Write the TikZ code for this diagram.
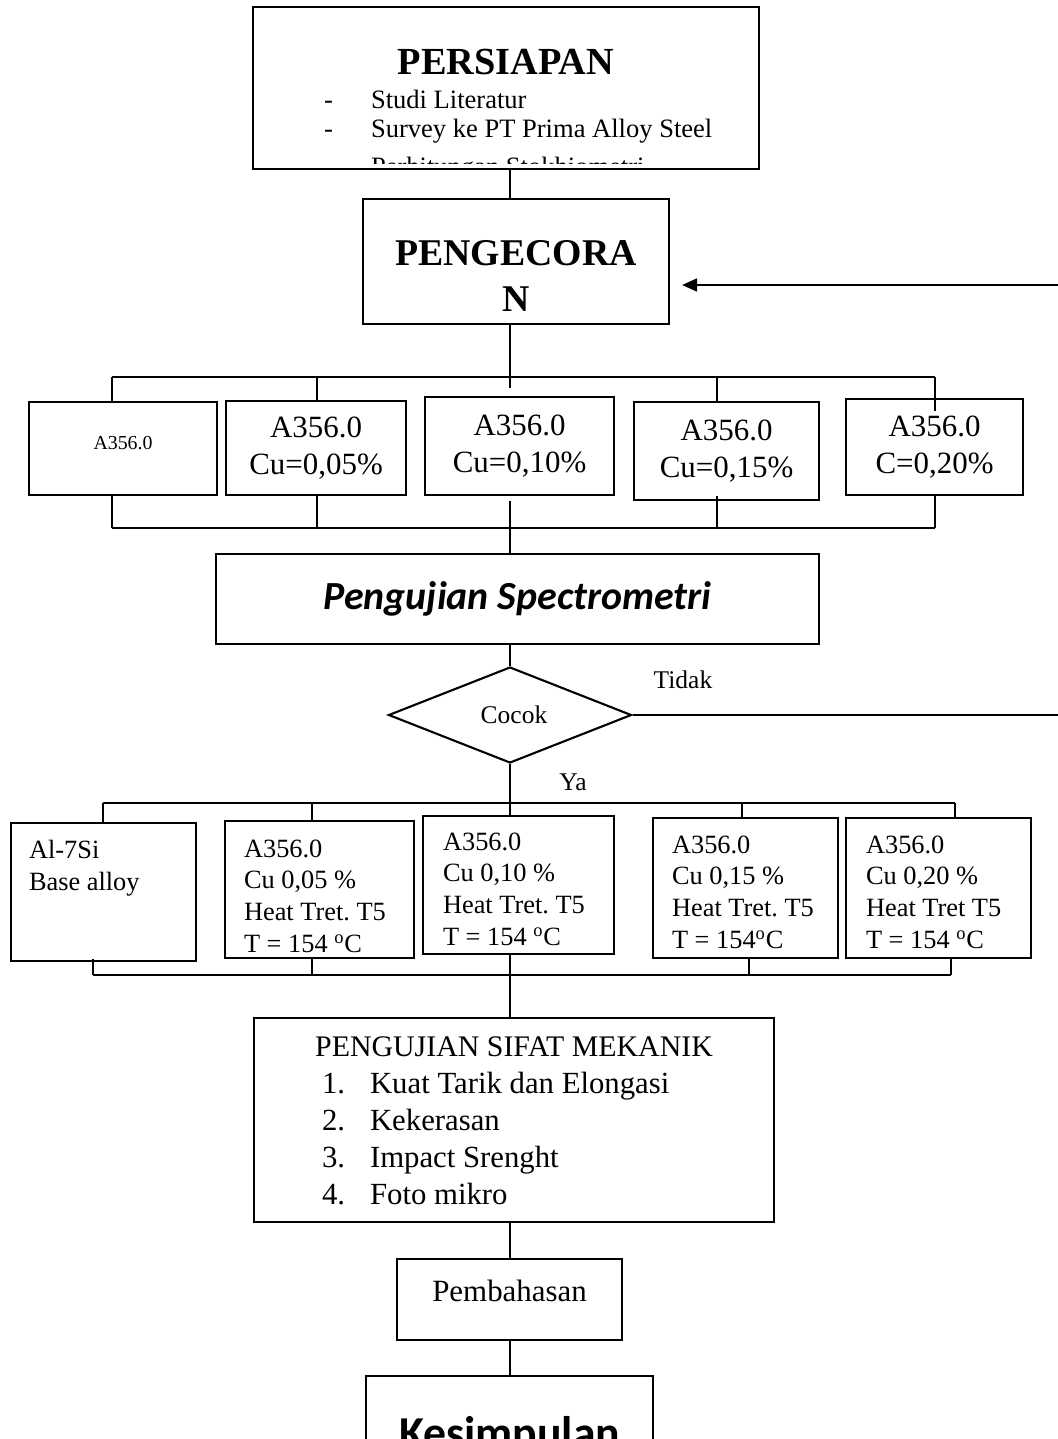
\documentclass[tikz,border=0pt]{standalone}
\usepackage{fontspec}
\setmainfont{Liberation Serif}
\newfontfamily\calibri{Carlito}
\usetikzlibrary{arrows.meta,shapes.geometric,calc}
\frenchspacing

\begin{document}
\begin{tikzpicture}[x=0.2mm, y=-0.2mm,
    blok/.style={draw, line width=1.2pt, inner sep=0pt, anchor=north west},
    garis/.style={line width=1.1pt},
    arr/.style={-{Triangle[length=3mm, width=2.6mm]}, line width=1.1pt},
    isi/.style={font=\fontsize{17.6}{21}\selectfont},
    isikecil/.style={font=\fontsize{15}{18.1}\selectfont},
    label/.style={font=\fontsize{14.5}{17}\selectfont, inner sep=0pt}
]
\useasboundingbox (0,0) rectangle (1058,1439);
\clip (0,0) rectangle (1058,1439);

% persiapan (third line cut off by the box)
\begin{scope}
\clip (253,7) rectangle (757,163);
\node[blok, draw=none] (prep) at (253,7) {\parbox[c][32mm][t]{100.8mm}{\vspace*{8.2mm}%
  {\centering\fontsize{21.8}{26}\selectfont\bfseries PERSIAPAN\par}
  {\fontsize{15.1}{19.3}\selectfont\hspace*{14mm}\makebox[9.4mm][l]{-}Studi Literatur\par}
  {\fontsize{15.1}{16.4}\selectfont\hspace*{14mm}\makebox[9.4mm][l]{-}Survey ke PT Prima Alloy Steel\par}
  {\fontsize{15.1}{22}\selectfont\hspace*{14mm}\makebox[9.4mm][l]{-}Perhitungan Stokhiometri\par}}};
\end{scope}
\draw[line width=1.2pt] (prep.north west) rectangle (prep.south east);

\node[blok] (peng) at (362,198) {\parbox[c][25mm][t]{61.2mm}{\vspace*{8.2mm}\centering
  \fontsize{21.5}{26.6}\selectfont\bfseries PENGECORA\\N}};

% paduan
\node[blok] (r1a) at (28,401) {\parbox[c][18.6mm][t]{37.6mm}{\vspace*{6.8mm}\centering
  \fontsize{11.3}{13}\selectfont A356.0}};
\node[blok, isi] (r1b) at (225,400) {\parbox[c][18.8mm][c]{36mm}{\centering A356.0\\Cu=0,05\%}};
\node[blok, isi] (r1c) at (424,396) {\parbox[c][19.6mm][c]{37.8mm}{\centering A356.0\\Cu=0,10\%}};
\node[blok, isi] (r1d) at (633,401) {\parbox[c][19.6mm][c]{37mm}{\centering A356.0\\Cu=0,15\%}};
\node[blok, isi] (r1e) at (845,398) {\parbox[c][19.2mm][c]{35.4mm}{\centering A356.0\\C=0,20\%}};

\node[blok] (spec) at (215,553) {\parbox[c][18mm][c]{120.6mm}{\centering
  \calibri\fontsize{22.7}{27}\selectfont\bfseries\itshape Pengujian Spectrometri}};

\node[draw, diamond, line width=1.2pt, minimum width=48.6mm, minimum height=19.2mm,
  inner sep=0pt, font=\fontsize{14.5}{17}\selectfont] (cocok) at (510,715) {\hspace*{1.6mm}\raisebox{-0.8mm}{Cocok}};
\node[label] (tidak) at (683,680) {Tidak};
\node[label] (ya) at (573,782) {Ya};

% heat treatment
\node[blok, isikecil] (r2a) at (10,822) {\parbox[c][27.6mm][t]{37mm}{\leftskip=3.6mm
  \vspace*{3.5mm}Al-7Si\\Base alloy}};
\node[blok, isikecil] (r2b) at (224,820) {\parbox[c][27.4mm][t]{37.8mm}{\leftskip=3.8mm
  \vspace*{3.7mm}A356.0\\Cu 0,05 \%\\Heat Tret. T5\\T = 154 \textsuperscript{o}C}};
\node[blok, isikecil] (r2c) at (422,815) {\parbox[c][27.6mm][t]{38.2mm}{\leftskip=4mm
  \vspace*{3.3mm}A356.0\\Cu 0,10 \%\\Heat Tret. T5\\T = 154 \textsuperscript{o}C}};
\node[blok, isikecil] (r2d) at (652,817) {\parbox[c][28mm][t]{37mm}{\leftskip=3.8mm
  \vspace*{3.5mm}A356.0\\Cu 0,15 \%\\Heat Tret. T5\\T = 154\textsuperscript{o}C}};
\node[blok, isikecil] (r2e) at (845,817) {\parbox[c][28mm][t]{37mm}{\leftskip=4mm
  \vspace*{3.5mm}A356.0\\Cu 0,20 \%\\Heat Tret T5\\T = 154 \textsuperscript{o}C}};

\node[blok] (sifat) at (253,1017) {\parbox[c][40.8mm][t]{104mm}{\vspace*{3.8mm}%
  {\centering\fontsize{17}{19}\selectfont PENGUJIAN SIFAT MEKANIK\par}
  {\fontsize{17.5}{21}\selectfont\leftskip=13.6mm
  \makebox[9.6mm][l]{1.}Kuat Tarik dan Elongasi\\
  \makebox[9.6mm][l]{2.}Kekerasan\\
  \makebox[9.6mm][l]{3.}Impact Srenght\\
  \makebox[9.6mm][l]{4.}Foto mikro\par}}};

\node[blok] (pemb) at (396,1258) {\parbox[c][16.2mm][t]{45mm}{\vspace*{4.2mm}\centering
  \fontsize{17.6}{20}\selectfont Pembahasan}};
\node[blok] (kes) at (365,1375) {\parbox[c][20mm][t]{57.4mm}{\vspace*{8mm}\centering
  \calibri\bfseries\fontsize{26}{30}\selectfont Kesimpulan}};

% titik bantu
\coordinate (spine) at (510,0);
\coordinate (ret) at (1058,285);
\coordinate (tidakujung) at (1058,715);
\coordinate (c1) at (510,388);
\coordinate (c2) at (510,501);
\coordinate (t1a) at (112,377); \coordinate (t1b) at (317,377);
\coordinate (t1d) at (717,377); \coordinate (t1e) at (935,377);
\coordinate (s1a) at (112,528); \coordinate (s1b) at (317,528);
\coordinate (s1d) at (717,528); \coordinate (s1e) at (935,528);
\coordinate (t2a) at (103,803); \coordinate (t2b) at (312,803);
\coordinate (t2d) at (742,803); \coordinate (t2e) at (955,803);
\coordinate (s2a) at (93,975); \coordinate (s2b) at (312,975);
\coordinate (s2d) at (749,975); \coordinate (s2e) at (951,975);

\draw[garis] (prep.south -| spine) -- (peng.north -| spine);
\draw[arr, shorten >=2.4mm] (ret) -- (ret -| peng.east);
\draw[garis] (peng.south -| spine) -- (c1);

\draw[garis] (t1a) -- (t1e);
\draw[garis] (t1a) -- (r1a.north -| t1a);
\draw[garis] (t1b) -- (r1b.north -| t1b);
\draw[garis] (t1d) -- (r1d.north -| t1d);
\draw[garis] (t1e) -- ($(r1e.north -| t1e)+(0,13)$);
\draw[garis] (s1a) -- (s1e);
\draw[garis] (r1a.south -| s1a) -- (s1a);
\draw[garis] (r1b.south -| s1b) -- (s1b);
\draw[garis] ($(r1d.south -| s1d)+(0,-5)$) -- (s1d);
\draw[garis] (r1e.south -| s1e) -- (s1e);
\draw[garis] (c2) -- (spec.north -| spine);

\draw[garis] (spec.south -| spine) -- (cocok.north);
\draw[garis] (cocok.east) -- (tidakujung);
\draw[garis] (cocok.south) -- (r2c.north -| cocok.south);

\draw[garis] (t2a) -- (t2e);
\draw[garis] (t2a) -- (r2a.north -| t2a);
\draw[garis] (t2b) -- (r2b.north -| t2b);
\draw[garis] (t2d) -- (r2d.north -| t2d);
\draw[garis] (t2e) -- (r2e.north -| t2e);
\draw[garis] (s2a) -- (s2e);
\draw[garis] ($(r2a.south -| s2a)+(0,-3)$) -- (s2a);
\draw[garis] (r2b.south -| s2b) -- (s2b);
\draw[garis] (r2d.south -| s2d) -- (s2d);
\draw[garis] (r2e.south -| s2e) -- (s2e);
\draw[garis] (r2c.south -| spine) -- (sifat.north -| spine);

\draw[garis] (sifat.south -| spine) -- (pemb.north -| spine);
\draw[garis] (pemb.south -| spine) -- (kes.north -| spine);
\end{tikzpicture}
\end{document}
